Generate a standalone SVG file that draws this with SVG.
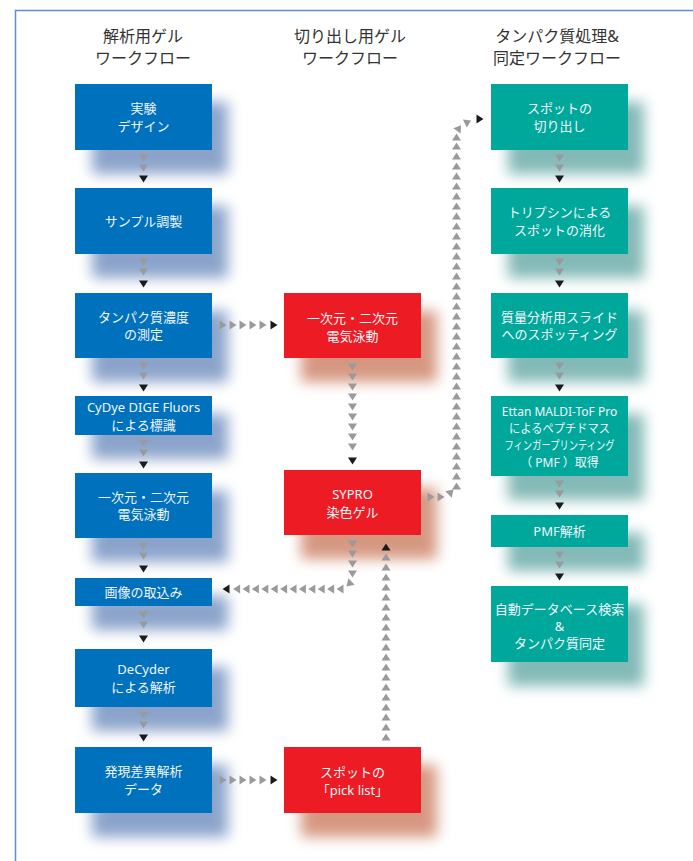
<svg xmlns="http://www.w3.org/2000/svg" xmlns:xlink="http://www.w3.org/1999/xlink" width="693" height="861" viewBox="0 0 693 861">
<style>
.hd{font-family:"Noto Sans","Noto Sans CJK JP",sans-serif;font-size:16px;fill:#333;text-anchor:middle}
.tx{font-family:"Noto Sans","Noto Sans CJK JP",sans-serif;font-size:13px;fill:#f2f5fa;text-anchor:middle}
.sm{font-size:12px}
.b{fill:#0071bd}.r{fill:#ed1c24}.t{fill:#00a89c}
.bs{fill:#7794c2}.rs{fill:#cf866c}.ts{fill:#6eaeab}
.g{fill:#9a9a9c}.k{fill:#1a1a1a}
</style>
<defs>
<filter id="bl" x="-30%" y="-40%" width="160%" height="180%"><feGaussianBlur stdDeviation="7"/></filter>
<path id="td" d="M-4.5,-3.5H4.5L0,3.5Z"/>
<path id="tu" d="M-4.5,3.5H4.5L0,-3.5Z"/>
<path id="tr" d="M-3.5,-4.5V4.5L3.5,0Z"/>
<path id="tl" d="M3.5,-4.5V4.5L-3.5,0Z"/>
</defs>
<rect width="693" height="861" fill="#fff"/>
<path d="M15.5,861V10.5H693" fill="none" stroke="#5b8ed6" stroke-width="1.5"/>

<g id="headers">
<text class="hd" x="143" y="42">解析用ゲル</text><text class="hd" x="143" y="64">ワークフロー</text>
<text class="hd" x="350" y="42">切り出し用ゲル</text><text class="hd" x="350" y="64">ワークフロー</text>
<text class="hd" x="557" y="42">タンパク質処理&amp;</text><text class="hd" x="557" y="64">同定ワークフロー</text>
</g>

<g id="shadows" filter="url(#bl)" opacity="0.85">
<rect class="bs" x="92" y="102" width="136" height="72"/>
<rect class="bs" x="92" y="206" width="136" height="72"/>
<rect class="bs" x="92" y="311" width="136" height="71"/>
<rect class="bs" x="92" y="414" width="136" height="45"/>
<rect class="bs" x="92" y="491" width="136" height="71"/>
<rect class="bs" x="92" y="596" width="136" height="34"/>
<rect class="bs" x="92" y="667" width="136" height="64"/>
<rect class="bs" x="92" y="765" width="136" height="72"/>
<rect class="rs" x="301" y="311" width="136" height="71"/>
<rect class="rs" x="301" y="488" width="136" height="71"/>
<rect class="rs" x="301" y="765" width="136" height="72"/>
<rect class="ts" x="508" y="102" width="136" height="72"/>
<rect class="ts" x="508" y="206" width="136" height="72"/>
<rect class="ts" x="508" y="311" width="136" height="71"/>
<rect class="ts" x="508" y="414" width="136" height="86"/>
<rect class="ts" x="508" y="533" width="136" height="38"/>
<rect class="ts" x="508" y="604" width="136" height="82"/>
</g>

<g id="connectors">
<use href="#td" class="g" x="143.5" y="158"/><use href="#td" class="g" x="143.5" y="168"/><use href="#td" class="k" x="143.5" y="179"/>
<use href="#td" class="g" x="143.5" y="262"/><use href="#td" class="g" x="143.5" y="272"/><use href="#td" class="k" x="143.5" y="284"/>
<use href="#td" class="g" x="143.5" y="366"/><use href="#td" class="g" x="143.5" y="376"/><use href="#td" class="k" x="143.5" y="388"/>
<use href="#td" class="g" x="143.5" y="443"/><use href="#td" class="g" x="143.5" y="453"/><use href="#td" class="k" x="143.5" y="465"/>
<use href="#td" class="g" x="143.5" y="546"/><use href="#td" class="g" x="143.5" y="556"/><use href="#td" class="k" x="143.5" y="569"/>
<use href="#td" class="g" x="143.5" y="615"/><use href="#td" class="g" x="143.5" y="625"/><use href="#td" class="k" x="143.5" y="639"/>
<use href="#td" class="g" x="143.5" y="715"/><use href="#td" class="g" x="143.5" y="725"/><use href="#td" class="k" x="143.5" y="738"/>
<use href="#td" class="g" x="559.5" y="158"/><use href="#td" class="g" x="559.5" y="168"/><use href="#td" class="k" x="559.5" y="179"/>
<use href="#td" class="g" x="559.5" y="262"/><use href="#td" class="g" x="559.5" y="272"/><use href="#td" class="k" x="559.5" y="284"/>
<use href="#td" class="g" x="559.5" y="366"/><use href="#td" class="g" x="559.5" y="376"/><use href="#td" class="k" x="559.5" y="388"/>
<use href="#td" class="g" x="559.5" y="484"/><use href="#td" class="g" x="559.5" y="494"/><use href="#td" class="k" x="559.5" y="506"/>
<use href="#td" class="g" x="559.5" y="555"/><use href="#td" class="g" x="559.5" y="565"/><use href="#td" class="k" x="559.5" y="577"/>
<use href="#tr" class="g" x="223" y="325"/><use href="#tr" class="g" x="233" y="325"/><use href="#tr" class="g" x="243" y="325"/><use href="#tr" class="g" x="253" y="325"/><use href="#tr" class="g" x="263" y="325"/><use href="#tr" class="k" x="274" y="325"/>
<use href="#tr" class="g" x="223" y="780"/><use href="#tr" class="g" x="233" y="780"/><use href="#tr" class="g" x="243" y="780"/><use href="#tr" class="g" x="253" y="780"/><use href="#tr" class="g" x="263" y="780"/><use href="#tr" class="k" x="274" y="780"/>
<use href="#td" class="g" x="352.5" y="367"/><use href="#td" class="g" x="352.5" y="377"/><use href="#td" class="g" x="352.5" y="387"/><use href="#td" class="g" x="352.5" y="397"/><use href="#td" class="g" x="352.5" y="407"/><use href="#td" class="g" x="352.5" y="417"/><use href="#td" class="g" x="352.5" y="427"/><use href="#td" class="g" x="352.5" y="437"/><use href="#td" class="g" x="352.5" y="447"/><use href="#td" class="k" x="352.5" y="461"/>
<use href="#td" class="g" x="352.5" y="544"/><use href="#td" class="g" x="352.5" y="554"/><use href="#td" class="g" x="352.5" y="564"/><use href="#td" class="g" x="352.5" y="574"/>
<use href="#td" class="g" transform="translate(349,584) rotate(45)"/>
<use href="#tl" class="g" x="340" y="589"/><use href="#tl" class="g" x="330.6" y="589"/><use href="#tl" class="g" x="321.2" y="589"/><use href="#tl" class="g" x="311.8" y="589"/><use href="#tl" class="g" x="302.4" y="589"/><use href="#tl" class="g" x="293" y="589"/><use href="#tl" class="g" x="283.6" y="589"/><use href="#tl" class="g" x="274.2" y="589"/><use href="#tl" class="g" x="264.8" y="589"/><use href="#tl" class="g" x="255.4" y="589"/><use href="#tl" class="g" x="246" y="589"/><use href="#tl" class="g" x="236.6" y="589"/><use href="#tl" class="k" x="226" y="589"/>
<use href="#tu" class="k" x="386" y="547"/>
<use href="#tu" class="g" x="386" y="557"/><use href="#tu" class="g" x="386" y="567"/><use href="#tu" class="g" x="386" y="577"/><use href="#tu" class="g" x="386" y="587"/><use href="#tu" class="g" x="386" y="597"/><use href="#tu" class="g" x="386" y="607"/><use href="#tu" class="g" x="386" y="617"/><use href="#tu" class="g" x="386" y="627"/><use href="#tu" class="g" x="386" y="637"/><use href="#tu" class="g" x="386" y="647"/><use href="#tu" class="g" x="386" y="657"/><use href="#tu" class="g" x="386" y="667"/><use href="#tu" class="g" x="386" y="677"/><use href="#tu" class="g" x="386" y="687"/><use href="#tu" class="g" x="386" y="697"/><use href="#tu" class="g" x="386" y="707"/><use href="#tu" class="g" x="386" y="717"/><use href="#tu" class="g" x="386" y="727"/><use href="#tu" class="g" x="386" y="737"/>
<use href="#tr" class="g" x="431" y="497"/><use href="#tr" class="g" x="441" y="497"/>
<use href="#tr" class="g" transform="translate(451,492) rotate(-45)"/>
<use href="#tu" class="g" x="456.5" y="486"/><use href="#tu" class="g" x="456.5" y="476"/><use href="#tu" class="g" x="456.5" y="466"/><use href="#tu" class="g" x="456.5" y="456"/><use href="#tu" class="g" x="456.5" y="446"/><use href="#tu" class="g" x="456.5" y="436"/><use href="#tu" class="g" x="456.5" y="426"/><use href="#tu" class="g" x="456.5" y="416"/><use href="#tu" class="g" x="456.5" y="406"/><use href="#tu" class="g" x="456.5" y="396"/><use href="#tu" class="g" x="456.5" y="386"/><use href="#tu" class="g" x="456.5" y="376"/><use href="#tu" class="g" x="456.5" y="366"/><use href="#tu" class="g" x="456.5" y="356"/><use href="#tu" class="g" x="456.5" y="346"/><use href="#tu" class="g" x="456.5" y="336"/><use href="#tu" class="g" x="456.5" y="326"/><use href="#tu" class="g" x="456.5" y="316"/><use href="#tu" class="g" x="456.5" y="306"/><use href="#tu" class="g" x="456.5" y="296"/><use href="#tu" class="g" x="456.5" y="286"/><use href="#tu" class="g" x="456.5" y="276"/><use href="#tu" class="g" x="456.5" y="266"/><use href="#tu" class="g" x="456.5" y="256"/><use href="#tu" class="g" x="456.5" y="246"/><use href="#tu" class="g" x="456.5" y="236"/><use href="#tu" class="g" x="456.5" y="226"/><use href="#tu" class="g" x="456.5" y="216"/><use href="#tu" class="g" x="456.5" y="206"/><use href="#tu" class="g" x="456.5" y="196"/><use href="#tu" class="g" x="456.5" y="186"/><use href="#tu" class="g" x="456.5" y="176"/><use href="#tu" class="g" x="456.5" y="166"/><use href="#tu" class="g" x="456.5" y="156"/><use href="#tu" class="g" x="456.5" y="146"/><use href="#tu" class="g" x="456.5" y="137"/>
<use href="#tu" class="g" transform="translate(459,128) rotate(35)"/>
<use href="#tu" class="g" transform="translate(468,122) rotate(65)"/>
<use href="#tr" class="k" x="480" y="119"/>
</g>

<g id="n-design"><rect class="b" x="75" y="84" width="137" height="66"/><text class="tx" x="143.5" y="113">実験</text><text class="tx" x="143.5" y="130.5">デザイン</text></g>
<g id="n-sample"><rect class="b" x="75" y="188" width="137" height="66"/><text class="tx" x="143.5" y="226">サンプル調製</text></g>
<g id="n-protein"><rect class="b" x="75" y="293" width="137" height="65"/><text class="tx" x="143.5" y="321.5">タンパク質濃度</text><text class="tx" x="143.5" y="339">の測定</text></g>
<g id="n-cydye"><rect class="b" x="75" y="396" width="137" height="39"/><text class="tx" x="143.5" y="412">CyDye DIGE Fluors</text><text class="tx" x="143.5" y="429.5">による標識</text></g>
<g id="n-electro1"><rect class="b" x="75" y="473" width="137" height="65"/><text class="tx" x="143.5" y="501.5">一次元・二次元</text><text class="tx" x="143.5" y="519">電気泳動</text></g>
<g id="n-image"><rect class="b" x="75" y="578" width="137" height="28"/><text class="tx" x="143.5" y="597">画像の取込み</text></g>
<g id="n-decyder"><rect class="b" x="75" y="649" width="137" height="58"/><text class="tx" x="143.5" y="674">DeCyder</text><text class="tx" x="143.5" y="691.5">による解析</text></g>
<g id="n-diff"><rect class="b" x="75" y="747" width="137" height="66"/><text class="tx" x="143.5" y="776">発現差異解析</text><text class="tx" x="143.5" y="793.5">データ</text></g>

<g id="n-electro2"><rect class="r" x="284" y="293" width="137" height="65"/><text class="tx" x="352.5" y="323">一次元・二次元</text><text class="tx" x="352.5" y="340.5">電気泳動</text></g>
<g id="n-sypro"><rect class="r" x="284" y="470" width="137" height="65"/><text class="tx" x="352.5" y="499">SYPRO</text><text class="tx" x="352.5" y="516.5">染色ゲル</text></g>
<g id="n-picklist"><rect class="r" x="284" y="747" width="137" height="66"/><text class="tx" x="352.5" y="777">スポットの</text><text class="tx" x="352.5" y="794.5">「pick list」</text></g>

<g id="n-excise"><rect class="t" x="491" y="84" width="137" height="66"/><text class="tx" x="559.5" y="113">スポットの</text><text class="tx" x="559.5" y="130.5">切り出し</text></g>
<g id="n-trypsin"><rect class="t" x="491" y="188" width="137" height="66"/><text class="tx" x="559.5" y="217">トリプシンによる</text><text class="tx" x="559.5" y="234.5">スポットの消化</text></g>
<g id="n-spotting"><rect class="t" x="491" y="293" width="137" height="65"/><text class="tx" x="559.5" y="321.5">質量分析用スライド</text><text class="tx" x="559.5" y="339">へのスポッティング</text></g>
<g id="n-maldi"><rect class="t" x="491" y="396" width="137" height="80"/><text class="tx sm" x="559.5" y="416">Ettan MALDI-ToF Pro</text><text class="tx sm" x="559.5" y="433" textLength="101" lengthAdjust="spacingAndGlyphs">によるペプチドマス</text><text class="tx sm" x="559.5" y="450" textLength="110" lengthAdjust="spacingAndGlyphs">フィンガープリンティング</text><text class="tx sm" x="559.5" y="466.5">（ PMF ）取得</text></g>
<g id="n-pmf"><rect class="t" x="491" y="515" width="137" height="32"/><text class="tx" x="559.5" y="536">PMF解析</text></g>
<g id="n-db"><rect class="t" x="491" y="586" width="137" height="76"/><text class="tx" x="559.5" y="613.5">自動データベース検索</text><text class="tx" x="559.5" y="630.5">&amp;</text><text class="tx" x="559.5" y="647.5">タンパク質同定</text></g>
</svg>
